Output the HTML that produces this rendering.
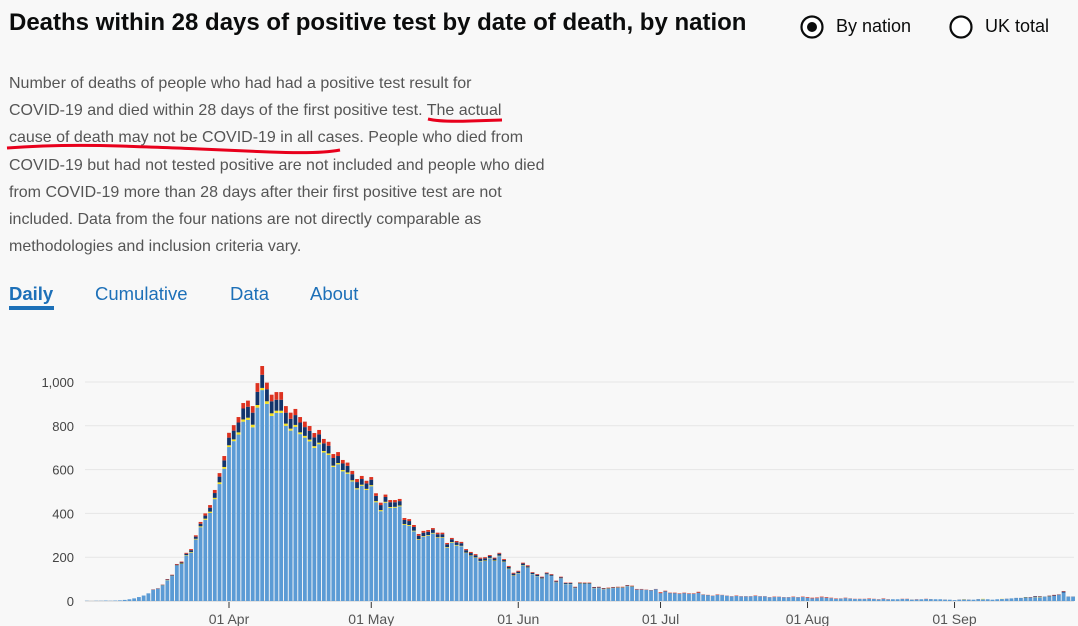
<!DOCTYPE html>
<html><head><meta charset="utf-8">
<style>
body{margin:0;width:1078px;height:626px;overflow:hidden;background:#f8f8f8;font-family:"Liberation Sans",Arial,sans-serif;position:relative}
.t{position:absolute;white-space:nowrap}
#title{left:9px;top:9px;font-size:24px;font-weight:bold;color:#0b0c0c}
#desc{left:9px;top:70px;font-size:16px;line-height:27.2px;color:#555}
.tab{top:283px;font-size:18.5px;color:#1d70b8}
.radio{top:16px;font-size:18px;color:#0b0c0c}
</style></head><body>
<div class="t" id="title">Deaths within 28 days of positive test by date of death, by nation</div>
<svg style="position:absolute;left:0;top:0" width="1078" height="60">
<circle cx="812" cy="27" r="10.5" fill="#fff" stroke="#0b0c0c" stroke-width="2.2"/>
<circle cx="812" cy="27" r="5" fill="#0b0c0c"/>
<circle cx="961" cy="27" r="10.5" fill="#fff" stroke="#0b0c0c" stroke-width="2.2"/>
</svg>
<div class="t radio" style="left:836px">By nation</div>
<div class="t radio" style="left:985px">UK total</div>
<div class="t" id="desc">Number of deaths of people who had had a positive test result for<br>COVID-19 and died within 28 days of the first positive test. The actual<br>cause of death may not be COVID-19 in all cases. People who died from<br>COVID-19 but had not tested positive are not included and people who died<br>from COVID-19 more than 28 days after their first positive test are not<br>included. Data from the four nations are not directly comparable as<br>methodologies and inclusion criteria vary.</div>
<svg style="position:absolute;left:0;top:0" width="1078" height="170">
<path d="M428 119 Q440 122 470 121 T502 120" stroke="#e8001c" stroke-width="3" fill="none"/>
<path d="M7 148 Q60 144 120 146 T200 149 T270 152 T340 150" stroke="#e8001c" stroke-width="3" fill="none"/>
</svg>
<div class="t tab" style="left:9px;font-weight:bold">Daily</div>
<div style="position:absolute;left:9px;top:306px;width:45px;height:4px;background:#1d70b8"></div>
<div class="t tab" style="left:95px">Cumulative</div>
<div class="t tab" style="left:230px">Data</div>
<div class="t tab" style="left:310px">About</div>
<svg id="chart" style="position:absolute;left:0;top:0" width="1078" height="626"></svg>
<script>
const yTicks=[0,200,400,600,800,1000];
const yTickLabels=["0","200","400","600","800","1,000"];
const xTickDays=[30,60,91,121,152,183];
const xTickLabels=["01 Apr","01 May","01 Jun","01 Jul","01 Aug","01 Sep"];
const england=[1,0,1,1,2,1,2,3,5,8,12,18,25,35,51,56,71,95,114,162,169,208,221,281,337,371,402,465,534,604,
703,730,760,819,827,793,883,963,900,845,859,859,800,778,795,762,746,729,699,716,678,667,612,624,592,581,546,510,526,507,
524,451,410,449,425,426,432,347,343,318,279,293,298,308,288,288,243,266,253,250,219,206,197,181,183,195,183,205,178,146,115,
125,162,152,122,113,102,121,114,85,103,77,77,59,79,78,78,58,59,54,56,59,60,60,68,65,52,52,50,48,53,
35,43,35,35,32,35,32,32,37,28,26,24,27,27,24,21,23,21,21,21,23,21,21,17,18,19,17,17,18,17,18,
15,12,13,17,15,13,10,11,13,11,9,9,9,10,9,7,10,7,8,8,9,9,5,7,8,9,7,8,8,5,6,
4,5,6,5,6,7,8,8,6,8,9,9,12,13,13,15,15,17,17,19,20,23,27,39,19,19];
const northernIreland=[0,0,0,0,0,0,0,0,0,0,0,0,0,0,0,0,1,1,1,1,2,2,3,3,4,5,6,6,8,8,
8,8,10,10,10,12,12,10,12,12,10,10,10,9,9,8,8,8,8,7,7,7,6,6,6,6,5,5,5,5,
5,5,5,4,4,4,4,4,4,3,3,3,3,3,3,3,3,3,3,2,2,2,2,2,2,2,2,2,2,2,2,
2,2,1,1,1,1,1,1,1,1,1,1,1,1,1,1,1,1,1,1,1,1,1,1,1,0,0,0,0,0,
0,0,0,0,0,0,0,0,0,0,0,0,0,0,0,0,0,0,0,0,0,0,0,0,0,0,0,0,0,0,0,
0,0,0,0,0,0,0,0,0,0,0,0,0,0,0,0,0,0,0,0,0,0,0,0,0,0,0,0,0,0,0,
0,0,1,0,0,0,2,0,0,0,1,0,0,0,0,1,0,1,2,0,1,0,0,0,0,0];
const scotland=[0,0,0,0,0,0,0,0,0,0,0,0,0,0,1,1,2,2,3,3,5,6,8,10,12,14,18,22,26,30,
35,40,45,50,50,55,60,60,55,55,50,50,50,45,45,45,40,40,40,38,35,35,35,32,30,30,28,28,26,25,
25,24,23,22,22,21,20,19,18,17,16,16,15,15,14,14,13,13,12,12,11,11,10,10,10,9,9,9,8,8,8,
7,7,6,6,6,5,5,5,4,4,4,4,3,3,3,3,3,3,2,2,2,2,2,2,2,1,1,1,1,1,
1,2,1,1,1,1,1,1,1,1,1,0,1,0,0,0,0,0,0,0,0,0,0,0,0,0,0,0,0,0,0,
0,0,0,0,0,0,0,0,0,0,0,0,0,0,0,0,0,0,0,0,0,0,1,0,0,0,1,0,0,1,0,
0,1,1,1,0,1,0,0,0,0,0,1,0,1,1,2,2,3,2,1,3,3,2,4,1,1];
const wales=[0,0,0,0,0,0,0,0,0,0,0,0,0,0,1,1,1,2,2,3,4,4,5,6,8,10,12,14,16,20,
22,25,25,25,28,30,40,40,30,30,35,35,30,28,28,25,25,22,20,20,20,18,18,18,16,15,15,14,14,12,
12,12,11,11,10,10,10,9,9,9,8,8,8,7,7,7,6,6,6,6,5,5,5,5,5,4,4,4,4,4,4,
4,4,4,3,3,3,3,3,3,3,2,2,2,2,2,2,2,2,2,2,2,2,2,2,2,2,2,1,1,1,
4,2,2,2,2,2,2,2,4,1,1,1,2,1,1,1,2,1,1,1,2,1,1,1,2,1,1,1,2,1,2,
3,3,3,3,3,2,2,1,2,1,1,1,1,2,1,1,2,1,0,0,1,1,0,1,0,1,0,0,0,0,0,
0,0,0,0,0,0,0,0,0,0,0,0,0,0,0,0,1,1,1,0,1,2,1,2,0,0];
const series=[["england",england,"#5b9bd5"],["northern-ireland",northernIreland,"#f3df1e"],["scotland",scotland,"#12346b"],["wales",wales,"#dd3220"]];
const svg=document.getElementById('chart');
const NS='http://www.w3.org/2000/svg';
const x0=85,x1=1074,yBase=601,yTop=382;
const day0=30, xDay0=229, pitch=4.742;
function xScale(d){return xDay0+(d-day0)*pitch;}
function yScale(v){return yBase-(v/1000)*(yBase-yTop);}
function mk(tag,attrs){const e=document.createElementNS(NS,tag);for(const k in attrs)e.setAttribute(k,attrs[k]);svg.appendChild(e);return e;}
yTicks.forEach((t,i)=>{
  const g=mk('line',{x1:x0,x2:x1,y1:yScale(t),y2:yScale(t),stroke:t===0?'#ccc':'#e6e6e6','stroke-width':1});
  
  
  const l=mk('text',{x:74,y:yScale(t)+5,'text-anchor':'end','font-size':13,fill:'#444','font-family':'Liberation Sans, sans-serif'});
  l.textContent=yTickLabels[i];
  
  
});
for(let d=0;d<england.length;d++){
  let acc=0;
  series.forEach(s=>{
    const v=s[1][d]; if(!v) return;
    const r=mk('rect',{x:xScale(d)-1.9,width:3.8,y:yScale(acc+v),height:yScale(acc)-yScale(acc+v),fill:s[2]});
    
    
    acc+=v;
  });
}
xTickDays.forEach((d,i)=>{
  const t=mk('line',{x1:xScale(d),x2:xScale(d),y1:yBase+1,y2:yBase+7,stroke:'#333','stroke-width':1});
  
  
  const l=mk('text',{x:xScale(d),y:624,'text-anchor':'middle','font-size':14,fill:'#555','font-family':'Liberation Sans, sans-serif'});
  l.textContent=xTickLabels[i];
  
  
});
</script>
</body></html>
